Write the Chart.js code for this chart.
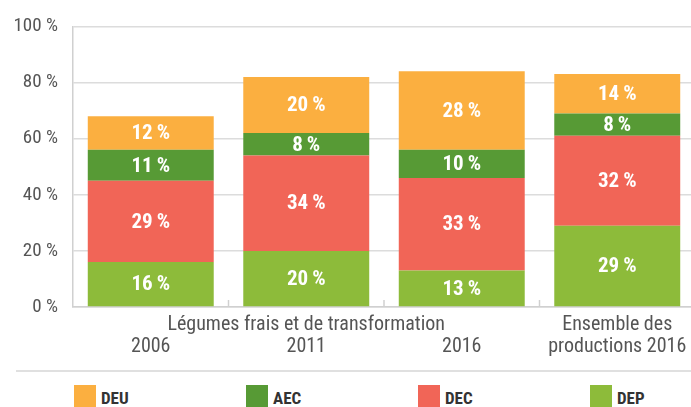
<!DOCTYPE html>
<html>
<head>
<meta charset="utf-8">
<script src="https://cdn.jsdelivr.net/npm/chart.js@4"></script>
<style>
    html, body { margin: 0; padding: 0; background: #fff; width: 691px; height: 407px; overflow: hidden; }
    #wrap { position: absolute; left: 0; top: 0; width: 695px; height: 365px; }
    #sep { position: absolute; left: 16px; right: 0; top: 370px; height: 2px; background: #e0e0e0; }
    #legend { position: absolute; left: 74px; top: 385px; display: flex; }
    .item { width: 172px; display: flex; align-items: flex-start; }
    .box { width: 22px; height: 22px; margin-right: 5px; }
    .txt { font: bold 17px 'Roboto Condensed', 'Roboto', sans-serif; color: #333; line-height: 26px; }
</style>
</head>
<body>
<div id="wrap"><canvas id="chart"></canvas></div>
<div id="sep"></div>
<div id="legend"></div>
<script>
// ================ données ================
const categories = [
    ['', '2006'],
    ['Légumes frais et de transformation', '2011'],
    ['', '2016'],
    ['Ensemble des', 'productions 2016']
];
const seriesNames = ['DEP', 'DEC', 'AEC', 'DEU'];
const depValues = [16, 20, 13, 29];
const decValues = [29, 34, 33, 32];
const aecValues = [11, 8, 10, 8];
const deuValues = [12, 20, 28, 14];
const yTicks = [0, 20, 40, 60, 80, 100];

const colors = ['#8DBB3A', '#F16557', '#579A35', '#FBAF40'];
const narrow = "'Roboto Condensed', 'Roboto', sans-serif";

// ================ plugins ================
const valueLabels = {
    id: 'valueLabels',
    afterDatasetsDraw(chart) {
        const ctx = chart.ctx;
        ctx.save();
        ctx.fillStyle = '#fff';
        ctx.font = 'bold 21px ' + narrow;
        ctx.textAlign = 'center';
        ctx.textBaseline = 'middle';
        chart.data.datasets.forEach((ds, i) => {
            chart.getDatasetMeta(i).data.forEach((bar, j) => {
                const p = bar.getCenterPoint();
                ctx.fillText(ds.data[j] + '\u2009%', p.x, p.y + 1);
            });
        });
        ctx.restore();
    }
};

const innerTicks = {
    id: 'innerTicks',
    beforeDatasetsDraw(chart) {
        const x = chart.scales.x;
        const bottom = chart.chartArea.bottom;
        const ctx = chart.ctx;
        ctx.save();
        ctx.strokeStyle = '#d0d0d0';
        ctx.lineWidth = 1.5;
        for (let i = 0; i < categories.length - 1; i++) {
            const px = (x.getPixelForValue(i) + x.getPixelForValue(i + 1)) / 2;
            ctx.beginPath();
            ctx.moveTo(px, bottom - 7);
            ctx.lineTo(px, bottom);
            ctx.stroke();
        }
        ctx.restore();
    }
};

const stacks = [depValues, decValues, aecValues, deuValues];

const chart = new Chart(document.getElementById('chart'), {
    type: 'bar',
    data: {
        labels: categories,
        datasets: seriesNames.map((name, i) => ({
            label: name,
            data: stacks[i],
            backgroundColor: colors[i],
            borderWidth: 0,
            categoryPercentage: 1,
            barPercentage: 0.81
        }))
    },
    options: {
        responsive: true,
        maintainAspectRatio: false,
        animation: false,
        layout: { padding: { top: 22, right: 0, left: 0, bottom: 0 } },
        plugins: {
            legend: { display: false },
            tooltip: { enabled: false }
        },
        scales: {
            x: {
                stacked: true,
                grid: { display: false, drawTicks: false },
                border: { display: true, color: '#d0d0d0', width: 1.5 },
                ticks: {
                    autoSkip: false,
                    maxRotation: 0,
                    minRotation: 0,
                    padding: 7,
                    color: '#555',
                    font: { family: narrow, size: 20, lineHeight: 1.1 }
                },
                afterFit: (s) => { s.height = 58; }
            },
            y: {
                stacked: true,
                min: 0,
                max: 100,
                grid: { color: '#dcdcdc', lineWidth: 1.5, drawTicks: false },
                border: { display: true, color: '#d0d0d0', width: 1.5 },
                ticks: {
                    stepSize: 10,
                    padding: 15,
                    color: '#555',
                    font: { family: narrow, size: 19 },
                    callback: (v) => yTicks.includes(v) ? v + ' %' : null
                },
                afterFit: (s) => { s.width = 73; }
            }
        }
    },
    plugins: [innerTicks, valueLabels]
});

// ================ légende ================
const legend = document.getElementById('legend');
chart.data.datasets.slice().reverse().forEach(ds => {
    const item = document.createElement('div');
    item.className = 'item';
    item.innerHTML = `<div class="box" style="background:${ds.backgroundColor}"></div><div class="txt">${ds.label}</div>`;
    legend.appendChild(item);
});
</script>
</body>
</html>
